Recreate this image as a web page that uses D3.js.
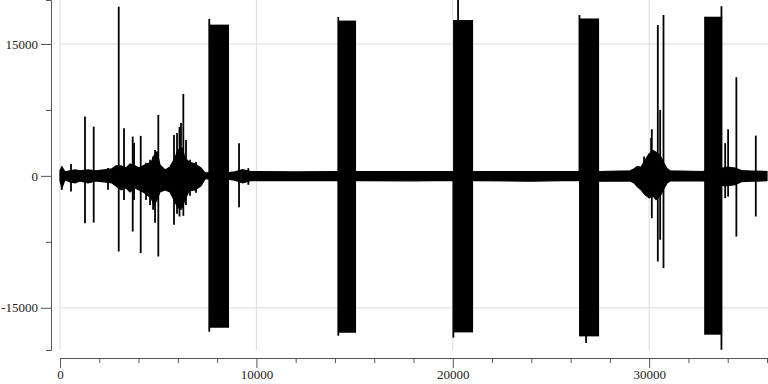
<!DOCTYPE html>
<html>
<head>
<meta charset="utf-8">
<script src="https://cdn.jsdelivr.net/npm/d3@7"></script>
<style>
  body { margin: 0; background: #fff; }
  text { font-family: "Liberation Serif", serif; }
</style>
</head>
<body>
<div id="myData"></div>
<script>
// envelope of the signal (sample index, upper value, lower value)
var envX  = [0, 100, 255, 510, 765, 1020, 1425, 1835, 2240, 2650, 2850, 3110, 3360, 3565, 3820, 4025, 4230, 4430, 4635, 4790, 4940, 5090, 5350, 5600, 5805, 6010, 6215, 6365, 6570, 6875, 7180, 7385, 7540,
             8650, 8900, 9300, 9700, 10000, 12000, 14100, 15100, 18000, 20000, 21100, 24000, 26400, 27500,
             29030, 29235, 29390, 29590, 29795, 29995, 30200, 30350, 30560, 30760, 30915, 31065, 32700, 33770, 34000, 34375, 34700, 35200, 36000];
var envHi = [570, 1020, 450, 570, 680, 570, 680, 570, 680, 800, 1140, 1140, 900, 1360, 1140, 900, 1140, 1360, 1480, 2270, 2730, 1250, 680, 1020, 1820, 2950, 3180, 2050, 1590, 1360, 900, 340, 340,
             400, 450, 700, 500, 500, 450, 500, 500, 480, 500, 500, 480, 500, 500,
             570, 800, 1060, 1000, 1800, 2500, 2900, 2700, 2300, 1400, 800, 570, 500, 900, 1000, 900, 600, 550, 500];
var envLo = [-570, -1360, -450, -680, -800, -570, -800, -570, -680, -800, -1140, -1590, -1360, -1820, -1360, -1590, -1820, -2160, -2500, -3300, -2730, -1820, -1590, -1820, -2730, -3640, -3640, -2730, -1700, -1590, -1140, -340, -340,
             -400, -500, -800, -550, -550, -550, -500, -550, -560, -500, -550, -600, -500, -600,
             -570, -800, -1210, -1590, -2160, -2500, -2300, -2700, -2300, -1400, -800, -570, -550, -1100, -1100, -1000, -650, -600, -550];

// single spikes (sample index, peak, trough)
var spikeX  = [87, 560, 1273, 1716, 2445, 2990, 3260, 3703, 3770, 4110, 4380, 4585, 4740, 4840, 5006, 5805, 5960, 6085, 6160, 6280, 6417, 6620, 6925,
               7600, 9116, 9590, 14170, 20030, 20270, 26450, 26790,
               29740, 30100, 30135, 30440, 30560, 30730, 33680, 33870, 34020, 34440, 35430];
var spikeHi = [1060, 1360, 6740, 5600, 900, 19240, 5420, 4470, 3750, 4545, 1480, 1820, 2190, 2950, 6930, 4660, 4890, 5570, 6020, 9320, 4090, 1820, 1590,
               17840, 3720, 875, 18060, 0, 20000, 18290, 1000,
               2190, 4300, 5300, 17160, 7500, 18300, 19300, 3720, 5300, 11220, 4580];
var spikeLo = [-1590, -1780, -5380, -5310, -1590, -8600, -2730, -6330, -2730, -8780, -2730, -3300, -3860, -5340, -9170, -5570, -4320, -4620, -3860, -4545, -3300, -2270, -1930,
               -17720, -3560, -1020, -18180, -18400, 0, 0, -19000,
               -1700, -2000, -4810, -9740, -7270, -10490, -19770, -2530, -2350, -6900, -4620];

// dense bursts (start, end, top, bottom)
var burstX0 = [7590, 14160, 20015, 26430, 32800];
var burstX1 = [8607, 15075, 21034, 27450, 33715];
var burstHi = [17200, 17660, 17720, 17900, 18100];
var burstLo = [-17270, -17840, -17800, -18250, -18060];

// tick values
var xTicks = [0, 2000, 4000, 6000, 8000, 10000, 12000, 14000, 16000, 18000, 20000, 22000, 24000, 26000, 28000, 30000, 32000, 34000, 36000];
var xLabels = [0, 10000, 20000, 30000];
var yTicks = [-15000, -7500, 0, 7500, 15000];
var yLabels = [-15000, 0, 15000];

var width = 768, height = 384;
var plotLeft = 60, plotRight = 767, plotTop = 0, plotBottom = 350;

var svg = d3.select("#myData")
  .append("svg")
  .attr("width", width)
  .attr("height", height);

var x = d3.scaleLinear()
  .domain([0, 36000])
  .range([plotLeft, plotRight]);

var y = d3.scaleLinear()
  .domain([-19800, 20000])
  .range([plotBottom, plotTop]);

// grid lines
svg.append("g")
  .selectAll("line")
  .data(xLabels)
  .enter()
  .append("line")
    .attr("x1", function(d) { return x(d); })
    .attr("x2", function(d) { return x(d); })
    .attr("y1", plotTop)
    .attr("y2", plotBottom)
    .attr("stroke", "#dcdcdc")
    .attr("stroke-width", 1);

svg.append("g")
  .selectAll("line")
  .data(yLabels)
  .enter()
  .append("line")
    .attr("x1", plotLeft)
    .attr("x2", width)
    .attr("y1", function(d) { return y(d); })
    .attr("y2", function(d) { return y(d); })
    .attr("stroke", "#dcdcdc")
    .attr("stroke-width", 1);

// signal envelope
var env = envX.map(function(d, i) { return {x: d, hi: envHi[i], lo: envLo[i]}; });

var area = d3.area()
  .x(function(d) { return x(d.x); })
  .y0(function(d) { return y(d.lo); })
  .y1(function(d) { return y(d.hi); });

svg.append("path")
  .datum(env)
  .attr("d", area)
  .attr("fill", "black")
  .attr("stroke", "black")
  .attr("stroke-width", 1.2);

// spikes
svg.append("g")
  .selectAll("line")
  .data(spikeX)
  .enter()
  .append("line")
    .attr("x1", function(d) { return x(d); })
    .attr("x2", function(d) { return x(d); })
    .attr("y1", function(d, i) { return y(spikeHi[i]); })
    .attr("y2", function(d, i) { return y(spikeLo[i]); })
    .attr("stroke", "black")
    .attr("stroke-width", 1.8);

// bursts
svg.append("g")
  .selectAll("rect")
  .data(burstX0)
  .enter()
  .append("rect")
    .attr("x", function(d) { return x(d); })
    .attr("width", function(d, i) { return x(burstX1[i]) - x(d); })
    .attr("y", function(d, i) { return y(burstHi[i]); })
    .attr("height", function(d, i) { return y(burstLo[i]) - y(burstHi[i]); })
    .attr("fill", "black");

// x axis
var xAxis = svg.append("g")
  .attr("transform", "translate(0," + 358 + ")")
  .call(d3.axisBottom(x)
    .tickValues(xTicks)
    .tickSizeOuter(0)
    .tickPadding(2)
    .tickSize(5)
    .tickFormat(function(d) { return xLabels.indexOf(d) >= 0 ? d : ""; }));

xAxis.selectAll(".tick line")
  .attr("y2", function(d) { return xLabels.indexOf(d) >= 0 ? 10 : 5; });
xAxis.selectAll(".tick text")
  .attr("y", 12);

// y axis
var yAxis = svg.append("g")
  .attr("transform", "translate(" + 51 + ",0)")
  .call(d3.axisLeft(y)
    .tickValues(yTicks)
    .tickSizeOuter(0)
    .tickSize(5)
    .tickFormat(function(d) { return yLabels.indexOf(d) >= 0 ? d : ""; }));

yAxis.selectAll(".tick line")
  .attr("x2", function(d) { return yLabels.indexOf(d) >= 0 ? -10 : -5; });
yAxis.selectAll(".tick text")
  .attr("x", -13);

svg.selectAll(".domain").attr("stroke", "#555");
svg.selectAll(".tick line").attr("stroke", "#555");
svg.selectAll(".tick text")
  .attr("fill", "#222")
  .style("font-family", "Liberation Serif, serif")
  .style("font-size", "13px");
</script>
</body>
</html>
